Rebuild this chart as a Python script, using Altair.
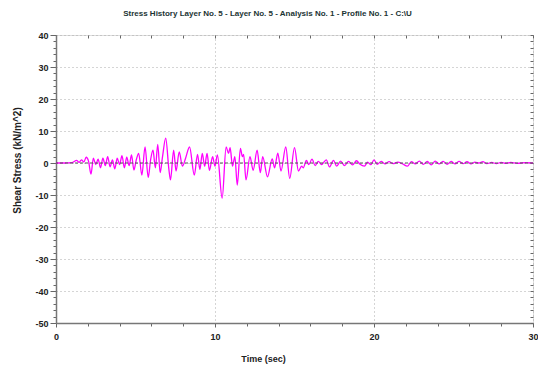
import altair as alt
import pandas as pd

TITLE = "Stress History Layer No. 5 - Layer No. 5 - Analysis No. 1 - Profile No. 1 - C:\\U"
X_TITLE = "Time (sec)"
Y_TITLE = "Shear Stress (kN/m^2)"

X_TICKS = list(range(0, 31, 2))
Y_TICKS = list(range(-50, 41, 2))

TIME = [0, 0.5, 1.0, 1.3, 1.45, 1.6, 1.75, 1.9, 2.05, 2.2, 2.35, 2.5, 2.65, 2.8, 2.95,
        3.1, 3.25, 3.4, 3.55, 3.7, 3.85, 4.0, 4.15, 4.3, 4.45, 4.6, 4.75, 4.9, 5.05,
        5.2, 5.4, 5.6, 5.8, 5.95, 6.1, 6.25, 6.4, 6.55, 6.7, 6.9, 7.1, 7.2, 7.4, 7.55,
        7.75, 7.95, 8.15, 8.4, 8.7, 8.9, 9.05, 9.2, 9.35, 9.5, 9.65, 9.85, 10.0, 10.15,
        10.45, 10.7, 10.85, 10.95, 11.1, 11.25, 11.4, 11.6, 11.72, 11.8, 11.95, 12.2,
        12.4, 12.65, 12.85, 13.0, 13.3, 13.6, 13.75, 13.95, 14.15, 14.45, 14.7, 15.0,
        15.25, 15.45, 15.55, 15.75, 15.9, 16.1, 16.3, 16.5, 16.7, 17.0, 17.2, 17.45,
        17.65, 17.9, 18.15, 18.4, 18.65, 18.9, 19.1, 19.4, 19.6, 19.8, 20.0, 20.2,
        20.45, 20.7, 20.95, 21.2, 21.5, 21.8, 22.1, 22.35, 22.6, 22.85, 23.1, 23.35,
        23.6, 23.85, 24.1, 24.35, 24.6, 24.85, 25.1, 25.35, 25.6, 25.85, 26.1, 26.35,
        26.6, 26.85, 27.1, 27.4, 27.7, 28.0, 28.3, 28.6, 29.0, 29.5, 30.0]

STRESS = [0, 0, 0.1, 0.8, 0.2, 1.0, 0.3, 1.8, 0.5, -3.5, 1.5, -0.5, 1.2, -1.5, 1.5,
          -0.8, 2.0, -1.2, 1.0, -1.8, 1.5, -0.5, 2.3, -1.5, 1.8, -0.8, 2.5, -2.2, 1.0,
          3.0, -3.8, 5.0, -4.5, 1.0, 4.0, -1.5, 5.8, -3.0, 2.0, 7.8, -2.0, -5.3, 4.0, -2.5,
          3.5, -1.0, 1.5, 5.0, -3.8, 2.7, -2.0, 3.0, -1.0, 3.0, -2.3, 2.0, -1.0, 2.5,
          -11.0, 5.0, 3.0, 4.8, -1.0, 2.0, -6.9, 4.6, 2.0, 2.7, -5.3, 2.0,
          -2.3, 4.0, -3.0, 2.0, -4.3, 1.3, -1.5, 3.1, -2.5, 5.0, -4.8, 4.8,
          -2.5, -1.0, -1.5, 0.8, -0.5, 1.2, -0.8, 0.5, -0.5, 1.0, -1.2, 0.8,
          -1.0, 0.6, -0.8, 0.5, -0.6, 0.7, -0.3, -1.0, 0.3, -0.5, 1.0, -0.4,
          0.5, -0.3, 0.4, -0.2, 0.3, -0.3, -1.0, 0.4, -0.3, 0.6, -0.4, 0.5,
          -0.6, 0.6, -0.3, 0.5, -0.4, 0.5, -0.3, 0.5, -0.2, 0.4, -0.3, 0.3,
          0.0, 0.4, -0.2, 0.2, -0.2, 0.2, -0.1, 0.2, -0.1, 0.1, 0.0]

df = pd.DataFrame({"t": TIME, "v": STRESS})
zero_df = pd.DataFrame({"v": [0]})

FONT = "Liberation Sans"
MAJOR = "datum.value % 10 === 0"
LABEL = f"{MAJOR} ? ('' + datum.value) : ''"
xs = alt.Scale(domain=[0, 30], nice=False, zero=False)
ys = alt.Scale(domain=[-50, 40], nice=False)

bottom_axis = alt.Axis(
    orient="bottom", values=X_TICKS, labelExpr=LABEL,
    labelOverlap=False, labelFlush=False,
    tickSize={"condition": {"test": MAJOR, "value": 4}, "value": 3},
    tickColor="#666", domainColor="#777", domainWidth=1.5,
    grid=True, gridOpacity={"condition": {"test": MAJOR, "value": 1}, "value": 0},
    gridDash=[1, 3], gridColor="#aaaaaa",
    labelFont=FONT, labelFontSize=9, labelFontWeight="bold", labelColor="#222",
    labelPadding=5,
    title=X_TITLE, titleFont=FONT, titleFontSize=9, titleFontWeight="bold",
    titleColor="#222", titleX=207, titleY=38, titleBaseline="alphabetic",
)
left_axis = alt.Axis(
    orient="left", values=Y_TICKS, labelExpr=LABEL,
    labelOverlap=False, labelFlush=False,
    tickSize={"condition": {"test": MAJOR, "value": 6}, "value": 3},
    tickColor="#666", domainColor="#777", domainWidth=1.5,
    grid=True, gridOpacity={"condition": {"test": MAJOR, "value": 1}, "value": 0},
    gridDash=[1, 3], gridColor="#aaaaaa",
    labelFont=FONT, labelFontSize=9, labelFontWeight="bold", labelColor="#222",
    labelPadding=2,
    title=Y_TITLE, titleFont=FONT, titleFontSize=10, titleFontWeight="bold",
    titleColor="#222", titleX=-39, titleY=125, titleBaseline="middle", titleAngle=270,
)
top_axis = alt.Axis(orient="top", values=X_TICKS, labels=False, domain=False,
                    tickSize=3, offset=-3, tickColor="#666", grid=False, title=None)
right_axis = alt.Axis(orient="right", values=Y_TICKS, labels=False, domain=False,
                      tickSize=3, offset=-3, tickColor="#666", grid=False, title=None)

line = alt.Chart(df).mark_line(color="#ff00ff", strokeWidth=1.3, interpolate="monotone").encode(
    x=alt.X("t:Q", scale=xs, axis=bottom_axis),
    y=alt.Y("v:Q", scale=ys, axis=left_axis),
)
zero = alt.Chart(zero_df).mark_rule(color="#555555", strokeDash=[3, 2], strokeWidth=1).encode(
    y=alt.Y("v:Q", scale=ys, axis=None),
)
frame_ticks = alt.Chart(df).mark_point(opacity=0).encode(
    x=alt.X("t:Q", scale=xs, axis=top_axis),
    y=alt.Y("v:Q", scale=ys, axis=right_axis),
)

chart = alt.layer(line, zero, frame_ticks).resolve_axis(
    x="independent", y="independent"
).properties(
    width=477, height=288,
    title=alt.Title(TITLE, font=FONT, fontSize=8, fontWeight="bold", color="#1c3434",
                    anchor="middle", dx=-27, offset=13),
    padding={"left": 56, "top": 35, "right": 5, "bottom": 49},
    autosize=alt.AutoSizeParams(type="none"),
).configure_view(stroke="#666666", strokeWidth=1.2).configure(background="white")

chart.save("out.html", embed_options={"renderer": "svg", "actions": False})
